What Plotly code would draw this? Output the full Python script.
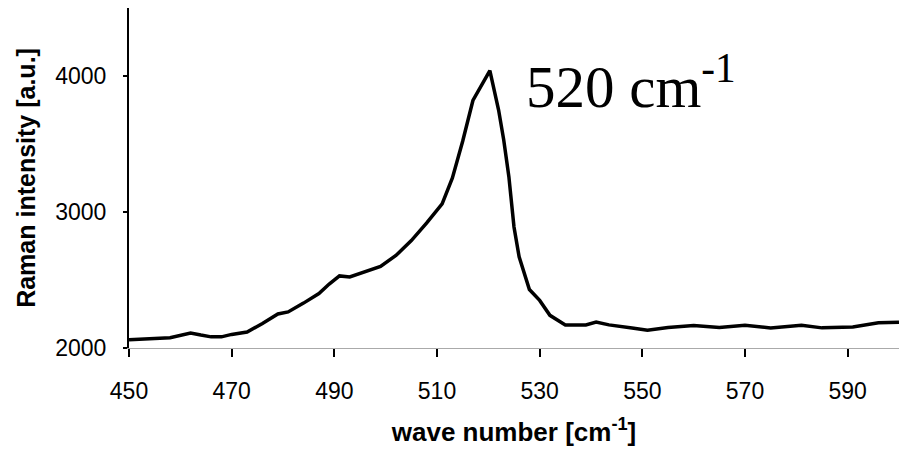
import plotly.graph_objects as go

wavenumber = [450, 452, 455, 458, 460, 462, 464, 466, 468, 470, 473, 476, 479, 481, 484, 487, 489, 491,
              493, 496, 499, 502, 505, 508, 511, 513, 515, 517, 518.5, 520.3, 522, 523, 524, 525, 526,
              528, 530, 532, 535, 539, 541, 543.5, 548, 551, 555, 560, 565, 570, 575, 581, 585, 591, 596, 600]
intensity = [2060, 2062, 2070, 2075, 2090, 2110, 2095, 2082, 2082, 2100, 2118, 2180, 2250, 2265, 2330,
             2400, 2470, 2530, 2522, 2560, 2600, 2680, 2790, 2920, 3060, 3250, 3520, 3820, 3920, 4040,
             3750, 3530, 3260, 2890, 2670, 2430, 2350, 2240, 2170, 2170, 2190, 2170, 2147, 2130, 2150,
             2165, 2150, 2168, 2148, 2168, 2148, 2155, 2185, 2190]

x_ticks = [450, 470, 490, 510, 530, 550, 570, 590]
y_ticks = [2000, 3000, 4000]

fig = go.Figure()
fig.add_trace(go.Scatter(x=wavenumber, y=intensity, mode="lines",
                         line=dict(color="black", width=3.5), showlegend=False))

fig.add_annotation(x=527.0, y=3665, xref="x", yref="y", text="520 cm<sup>-1</sup>",
                   showarrow=False, xanchor="left", yanchor="bottom",
                   font=dict(family="Liberation Serif, Times New Roman, serif", size=59, color="black"))

fig.update_layout(
    width=899, height=457,
    margin=dict(l=129, r=0, t=8, b=109, autoexpand=False),
    paper_bgcolor="white", plot_bgcolor="white",
    font=dict(family="Liberation Sans, Arial, sans-serif", color="black"),
    xaxis=dict(range=[450, 600], tickvals=x_ticks, showgrid=False, zeroline=False, automargin=False,
               showline=True, linecolor="#aaaaaa", linewidth=1,
               ticks="outside", ticklen=8, tickwidth=2, tickcolor="black",
               tickfont=dict(size=23, color="black"), ticklabelstandoff=14,
               title=dict(text="<b>wave number [cm<sup>-1</sup>]</b>", font=dict(size=26), standoff=20)),
    yaxis=dict(range=[2000, 4500], tickvals=y_ticks, showgrid=False, zeroline=False, automargin=False,
               showline=True, linecolor="black", linewidth=2,
               ticks="outside", ticklen=4, tickwidth=2, tickcolor="black",
               tickfont=dict(size=23, color="black"), ticklabelstandoff=12,
               title=dict(text="<b>Raman intensity [a.u.]</b>", font=dict(size=25), standoff=12)),
)

fig.write_html("out.html", config={"displayModeBar": False},
               post_script="document.body.style.margin='0';")
